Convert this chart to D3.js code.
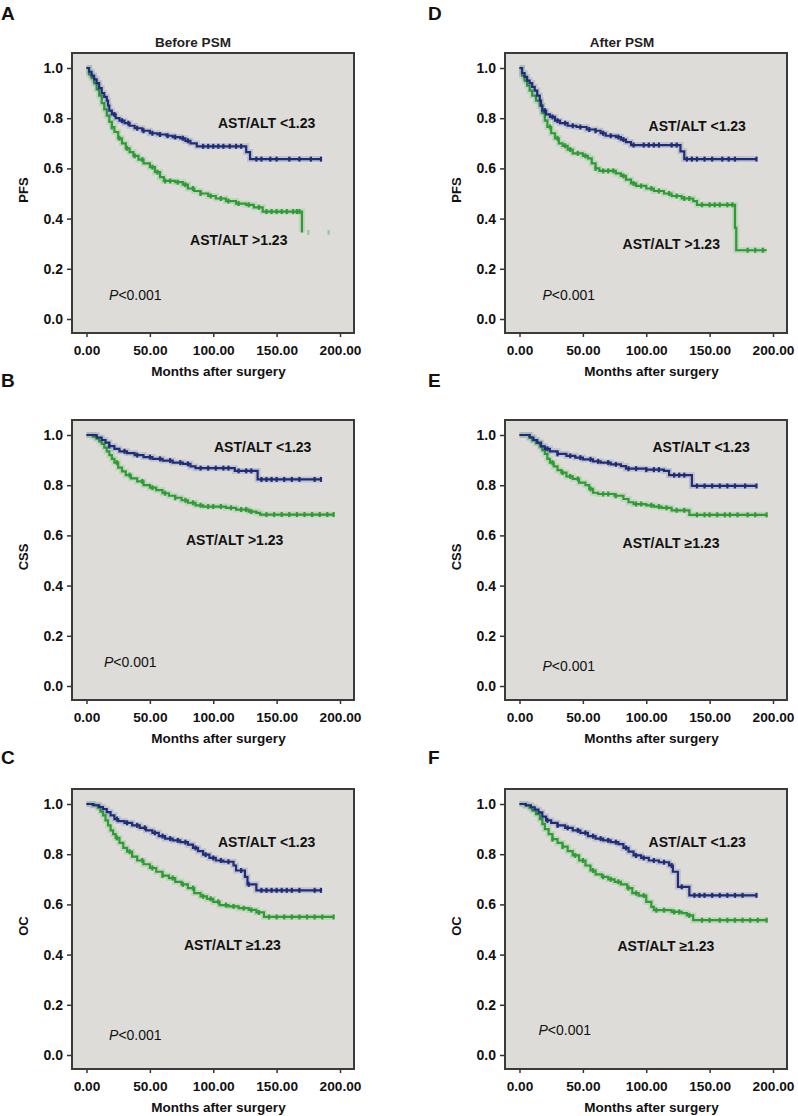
<!DOCTYPE html>
<html><head><meta charset="utf-8">
<script src="https://cdn.jsdelivr.net/npm/d3@7/dist/d3.min.js"></script>
<style>
body{margin:0;background:#fff}
svg{display:block}
text{font-family:"Liberation Sans",Arial,Helvetica,sans-serif;fill:#111}
</style>
</head><body>
<svg id="chart" width="798" height="1116"></svg>
<script>
// ---------------- data ----------------
const xTicks = [0, 50, 100, 150, 200];
const xTickLabels = ["0.00", "50.00", "100.00", "150.00", "200.00"];
const yTicks = [0, 0.2, 0.4, 0.6, 0.8, 1.0];
const yTickLabels = ["0.0", "0.2", "0.4", "0.6", "0.8", "1.0"];
const panelLetters = ["A", "B", "C", "D", "E", "F"];
const yLabels = ["PFS", "CSS", "OC", "PFS", "CSS", "OC"];
const titles = ["Before PSM", "", "", "After PSM", "", ""];
const lowLabels = ["AST/ALT <1.23", "AST/ALT <1.23", "AST/ALT <1.23", "AST/ALT <1.23", "AST/ALT <1.23", "AST/ALT <1.23"];
const highLabels = ["AST/ALT >1.23", "AST/ALT >1.23", "AST/ALT \u22651.23", "AST/ALT >1.23", "AST/ALT \u22651.23", "AST/ALT \u22651.23"];
const pText = "<0.001";
const xLabel = "Months after surgery";

// Panel A: PFS before PSM
const A_low_t = [0, 2, 4, 6, 8, 10, 12, 14, 16, 17, 18, 20, 23, 26, 30, 34, 38, 44, 50, 56, 63, 68, 74, 78, 82, 87, 126, 129, 185];
const A_low_s = [1.0, 0.985, 0.97, 0.955, 0.94, 0.92, 0.90, 0.885, 0.87, 0.85, 0.83, 0.815, 0.80, 0.79, 0.78, 0.77, 0.76, 0.75, 0.74, 0.735, 0.73, 0.725, 0.72, 0.71, 0.70, 0.688, 0.665, 0.637, 0.637];
const A_low_c = [22, 28, 33, 40, 45, 52, 58, 64, 70, 76, 80, 92, 96, 100, 104, 108, 113, 118, 122, 134, 138, 145, 150, 160, 168, 177, 185];
const A_high_t = [0, 2, 4, 6, 8, 10, 12, 14, 16, 18, 20, 22, 25, 28, 31, 34, 37, 41, 45, 50, 54, 58, 61, 70, 76, 80, 85, 90, 96, 102, 110, 118, 126, 132, 139, 170];
const A_high_s = [1.0, 0.975, 0.96, 0.94, 0.915, 0.89, 0.86, 0.835, 0.81, 0.785, 0.765, 0.745, 0.72, 0.70, 0.68, 0.665, 0.65, 0.635, 0.62, 0.605, 0.585, 0.565, 0.55, 0.545, 0.535, 0.52, 0.51, 0.50, 0.49, 0.48, 0.47, 0.46, 0.455, 0.445, 0.428, 0.345];
const A_high_c = [20, 26, 32, 38, 44, 52, 56, 62, 66, 72, 78, 84, 90, 98, 106, 112, 120, 128, 136, 142, 146, 150, 154, 158, 163, 166, 168, 175, 191];

// Panel B: CSS before PSM
const B_low_t = [0, 8, 12, 15, 18, 22, 26, 32, 38, 45, 52, 60, 68, 76, 82, 86, 117, 135, 185];
const B_low_s = [1.0, 0.99, 0.98, 0.97, 0.956, 0.945, 0.935, 0.928, 0.92, 0.912, 0.905, 0.898, 0.89, 0.885, 0.875, 0.868, 0.857, 0.823, 0.823];
const B_low_c = [18, 30, 40, 50, 58, 66, 74, 80, 90, 96, 102, 108, 112, 120, 126, 130, 138, 142, 146, 150, 156, 162, 168, 180, 185];
const B_high_t = [0, 5, 8, 10, 12, 14, 16, 18, 20, 22, 25, 28, 31, 35, 40, 45, 50, 55, 60, 65, 70, 75, 80, 86, 92, 110, 118, 128, 134, 137, 195];
const B_high_s = [1.0, 0.993, 0.985, 0.975, 0.965, 0.95, 0.935, 0.92, 0.905, 0.89, 0.87, 0.855, 0.84, 0.827, 0.815, 0.80, 0.79, 0.78, 0.768, 0.758, 0.75, 0.74, 0.73, 0.72, 0.715, 0.71, 0.703, 0.695, 0.69, 0.683, 0.683];
const B_high_c = [24, 34, 44, 52, 62, 70, 78, 84, 90, 96, 100, 106, 114, 122, 126, 130, 142, 148, 154, 160, 166, 172, 178, 184, 190, 195];

// Panel C: OC before PSM
const C_low_t = [0, 5, 10, 13, 16, 19, 22, 25, 30, 36, 42, 47, 52, 57, 62, 68, 74, 80, 84, 88, 92, 97, 102, 108, 116, 118, 125, 127, 134, 185];
const C_low_s = [1.0, 0.995, 0.988, 0.98, 0.968, 0.955, 0.94, 0.932, 0.925, 0.915, 0.905, 0.895, 0.885, 0.872, 0.862, 0.855, 0.848, 0.838, 0.825, 0.812, 0.798, 0.785, 0.775, 0.77, 0.755, 0.735, 0.71, 0.68, 0.656, 0.656];
const C_low_c = [24, 32, 40, 46, 54, 60, 66, 72, 78, 86, 94, 100, 106, 112, 122, 128, 138, 142, 146, 150, 154, 158, 162, 168, 180, 185];
const C_high_t = [0, 6, 9, 11, 13, 15, 17, 19, 21, 23, 26, 29, 32, 36, 40, 45, 50, 55, 60, 65, 70, 75, 80, 85, 90, 95, 100, 105, 112, 120, 128, 134, 140, 195];
const C_high_s = [1.0, 0.995, 0.985, 0.97, 0.955, 0.935, 0.915, 0.895, 0.88, 0.865, 0.845, 0.825, 0.81, 0.79, 0.775, 0.76, 0.745, 0.73, 0.715, 0.705, 0.69, 0.68, 0.665, 0.645, 0.632, 0.622, 0.61, 0.597, 0.592, 0.585, 0.578, 0.568, 0.55, 0.55];
const C_high_c = [24, 34, 44, 52, 60, 68, 76, 84, 92, 98, 104, 110, 116, 124, 130, 136, 144, 150, 156, 162, 168, 174, 180, 186, 195];

// Panel D: PFS after PSM
const D_low_t = [0, 2, 4, 6, 8, 10, 12, 14, 16, 17, 18, 21, 24, 28, 32, 38, 45, 53, 60, 64, 68, 76, 80, 84, 88, 127, 130, 187];
const D_low_s = [1.0, 0.98, 0.965, 0.95, 0.94, 0.925, 0.91, 0.89, 0.87, 0.85, 0.83, 0.815, 0.805, 0.79, 0.78, 0.77, 0.765, 0.755, 0.75, 0.74, 0.73, 0.725, 0.715, 0.705, 0.693, 0.668, 0.637, 0.637];
const D_low_c = [20, 26, 30, 36, 42, 48, 55, 60, 66, 72, 78, 82, 90, 98, 102, 106, 110, 120, 124, 132, 136, 140, 146, 152, 160, 165, 170, 187];
const D_high_t = [0, 2, 4, 6, 8, 10, 13, 16, 18, 20, 22, 25, 28, 31, 34, 38, 42, 50, 54, 57, 60, 63, 76, 80, 84, 88, 92, 100, 106, 114, 120, 128, 137, 140, 170, 171, 195];
const D_high_s = [1.0, 0.97, 0.95, 0.93, 0.91, 0.89, 0.87, 0.85, 0.82, 0.79, 0.765, 0.74, 0.72, 0.70, 0.69, 0.675, 0.66, 0.65, 0.64, 0.62, 0.60, 0.59, 0.58, 0.57, 0.555, 0.54, 0.53, 0.52, 0.51, 0.50, 0.49, 0.48, 0.47, 0.455, 0.363, 0.274, 0.274];
const D_high_c = [24, 30, 36, 40, 46, 52, 60, 66, 70, 74, 82, 90, 96, 104, 110, 118, 124, 130, 134, 144, 150, 154, 158, 164, 168, 180, 186, 192];

// Panel E: CSS after PSM
const E_low_t = [0, 8, 11, 14, 17, 20, 24, 30, 37, 44, 50, 58, 64, 72, 80, 84, 100, 114, 118, 136, 187];
const E_low_s = [1.0, 0.99, 0.98, 0.97, 0.955, 0.945, 0.935, 0.925, 0.917, 0.91, 0.903, 0.895, 0.89, 0.883, 0.876, 0.866, 0.862, 0.857, 0.84, 0.797, 0.797];
const E_low_c = [22, 30, 40, 48, 56, 62, 70, 76, 86, 92, 100, 106, 110, 122, 126, 130, 140, 146, 152, 158, 164, 170, 178, 187];
const E_high_t = [0, 8, 10, 13, 16, 18, 20, 22, 24, 27, 30, 33, 37, 42, 47, 52, 55, 58, 62, 75, 82, 86, 90, 100, 106, 112, 120, 134, 195];
const E_high_s = [1.0, 0.99, 0.978, 0.968, 0.955, 0.94, 0.925, 0.905, 0.89, 0.875, 0.86, 0.85, 0.835, 0.825, 0.81, 0.80, 0.785, 0.77, 0.765, 0.758, 0.745, 0.732, 0.725, 0.72, 0.715, 0.71, 0.70, 0.682, 0.682];
const E_high_c = [26, 34, 40, 46, 56, 66, 70, 76, 92, 96, 104, 110, 116, 124, 130, 140, 146, 150, 156, 162, 166, 172, 180, 186, 195];

// Panel F: OC after PSM
const F_low_t = [0, 5, 9, 12, 15, 18, 21, 25, 30, 36, 42, 48, 54, 60, 66, 72, 78, 82, 86, 90, 96, 102, 110, 118, 121, 125, 134, 187];
const F_low_s = [1.0, 0.995, 0.987, 0.978, 0.967, 0.95, 0.935, 0.925, 0.915, 0.905, 0.895, 0.885, 0.872, 0.862, 0.855, 0.848, 0.84, 0.825, 0.81, 0.795, 0.785, 0.775, 0.768, 0.755, 0.73, 0.67, 0.636, 0.636];
const F_low_c = [22, 30, 38, 46, 52, 58, 64, 70, 76, 84, 92, 98, 106, 114, 120, 128, 138, 142, 146, 152, 158, 164, 170, 176, 187];
const F_high_t = [0, 5, 8, 10, 13, 16, 18, 20, 23, 26, 30, 34, 38, 42, 47, 52, 56, 60, 65, 70, 75, 80, 85, 89, 94, 100, 104, 106, 120, 128, 132, 137, 195];
const F_high_s = [1.0, 0.993, 0.985, 0.975, 0.96, 0.94, 0.92, 0.90, 0.88, 0.86, 0.845, 0.83, 0.812, 0.795, 0.775, 0.755, 0.735, 0.72, 0.71, 0.70, 0.69, 0.68, 0.665, 0.645, 0.635, 0.61, 0.59, 0.577, 0.57, 0.565, 0.556, 0.537, 0.537];
const F_high_c = [26, 34, 44, 50, 58, 66, 72, 78, 86, 92, 98, 108, 114, 122, 126, 134, 144, 150, 158, 164, 170, 176, 182, 188, 195];

// ---------------- layout ----------------
const series = [
  {low: [A_low_t, A_low_s, A_low_c], high: [A_high_t, A_high_s, A_high_c]},
  {low: [B_low_t, B_low_s, B_low_c], high: [B_high_t, B_high_s, B_high_c]},
  {low: [C_low_t, C_low_s, C_low_c], high: [C_high_t, C_high_s, C_high_c]},
  {low: [D_low_t, D_low_s, D_low_c], high: [D_high_t, D_high_s, D_high_c]},
  {low: [E_low_t, E_low_s, E_low_c], high: [E_high_t, E_high_s, E_high_c]},
  {low: [F_low_t, F_low_s, F_low_c], high: [F_high_t, F_high_s, F_high_c]}
];
const colLeft = [72, 505];
const rowTop = [53, 420, 789];
const letterBase = [20, 387, 764];
const letterX = [1, 428];
// label anchors in data units [months, survival]
const lowPos  = [[103.7, 0.762], [100.6, 0.932], [103.7, 0.829], [101.8, 0.750], [104.9, 0.932], [101.8, 0.829]];
const highPos = [[81.7, 0.296], [78.5, 0.562], [76.9, 0.418], [81.3, 0.280], [81.3, 0.550], [77.3, 0.414]];
const pPos    = [[17.8, 0.077], [13.8, 0.076], [17.8, 0.060], [18.1, 0.077], [18.1, 0.060], [15.0, 0.080]];
const titleCx = [121, 0, 0, 117, 0, 0];

const BOX_W = 282, BOX_H = 280;
const BLUE = "#1f2c7c", GREEN = "#2c9c33";
const svg = d3.select("#chart");

series.forEach((ser, i) => {
  const col = i < 3 ? 0 : 1, row = i % 3;
  const bx = colLeft[col], by = rowTop[row];
  const x = d3.scaleLinear().domain([0, 200]).range([bx + 14.5, bx + 14.5 + 253.5]);
  const y = d3.scaleLinear().domain([0, 1]).range([by + 266, by + 15]);
  const g = svg.append("g");

  g.append("text").attr("x", letterX[col]).attr("y", letterBase[row])
    .style("font-size", "19px").style("font-weight", "bold").text(panelLetters[i]);
  if (titles[i]) {
    g.append("text").attr("x", bx + titleCx[i]).attr("y", 47).attr("text-anchor", "middle")
      .style("font-size", "13.5px").style("font-weight", "bold").style("fill", "#222").text(titles[i]);
  }
  g.append("rect").attr("x", bx).attr("y", by).attr("width", BOX_W).attr("height", BOX_H)
    .attr("fill", "#dddcd8");

  const xAxis = d3.axisBottom(x).tickValues(xTicks).tickSize(4).tickPadding(8)
    .tickFormat((d, k) => xTickLabels[k]);
  const xa = g.append("g").attr("transform", `translate(0,${by + BOX_H})`).call(xAxis);
  xa.select(".domain").remove();
  xa.selectAll("line").attr("stroke", "#333").attr("stroke-width", 1.5);
  xa.selectAll("text").style("font-size", "13.7px").style("font-weight", "bold")
    .style("font-family", '"Liberation Sans",Arial,sans-serif').attr("fill", "#1a1a1a");

  const yAxis = d3.axisLeft(y).tickValues(yTicks).tickSize(5).tickPadding(4)
    .tickFormat((d, k) => yTickLabels[k]);
  const ya = g.append("g").attr("transform", `translate(${bx},0)`).call(yAxis);
  ya.select(".domain").remove();
  ya.selectAll("line").attr("stroke", "#333").attr("stroke-width", 1.5);
  ya.selectAll("text").style("font-size", "14px").style("font-weight", "bold")
    .style("font-family", '"Liberation Sans",Arial,sans-serif').attr("fill", "#1a1a1a");

  g.append("text").attr("transform", `translate(${bx - 44},${by + BOX_H / 2 - 3}) rotate(-90)`)
    .attr("text-anchor", "middle").style("font-size", "13px").style("font-weight", "bold").text(yLabels[i]);
  g.append("text").attr("x", x(0) + 132).attr("y", by + BOX_H + 43).attr("text-anchor", "middle")
    .style("font-size", "13.5px").style("font-weight", "bold").text(xLabel);

  const line = d3.line().x(d => x(d[0])).y(d => y(d[1])).curve(d3.curveStepAfter);
  const drawCurve = (data, color) => {
    const [t, s, c] = data;
    const pts = t.map((v, k) => [v, s[k]]);
    const tEnd = t[t.length - 1];
    g.append("path").datum(pts).attr("d", line).attr("fill", "none")
      .attr("stroke", color).attr("stroke-width", 6).attr("stroke-opacity", 0.14);
    g.append("path").datum(pts).attr("d", line).attr("fill", "none")
      .attr("stroke", color).attr("stroke-width", 2.2);
    const sAt = m => { let v = s[0]; for (let k = 0; k < t.length; k++) { if (t[k] <= m) v = s[k]; } return v; };
    g.selectAll(null).data(c).enter().append("line")
      .attr("x1", d => x(d)).attr("x2", d => x(d))
      .attr("y1", d => y(sAt(d)) - 2.5).attr("y2", d => y(sAt(d)) + 2.5)
      .attr("stroke", color).attr("stroke-width", 2.2)
      .attr("stroke-opacity", d => d > tEnd ? 0.35 : 1);
  };
  drawCurve(ser.high, GREEN);
  drawCurve(ser.low, BLUE);

  g.append("rect").attr("x", bx).attr("y", by).attr("width", BOX_W).attr("height", BOX_H)
    .attr("fill", "none").attr("stroke", "#3a3a3a").attr("stroke-width", 2);

  g.append("text").attr("x", x(lowPos[i][0])).attr("y", y(lowPos[i][1]))
    .style("font-size", "14px").style("font-weight", "bold").text(lowLabels[i]);
  g.append("text").attr("x", x(highPos[i][0])).attr("y", y(highPos[i][1]))
    .style("font-size", "14px").style("font-weight", "bold").text(highLabels[i]);
  const pt = g.append("text").attr("x", x(pPos[i][0])).attr("y", y(pPos[i][1]))
    .style("font-size", "14px");
  pt.append("tspan").style("font-style", "italic").text("P");
  pt.append("tspan").text(pText);
});
</script>
</body></html>
